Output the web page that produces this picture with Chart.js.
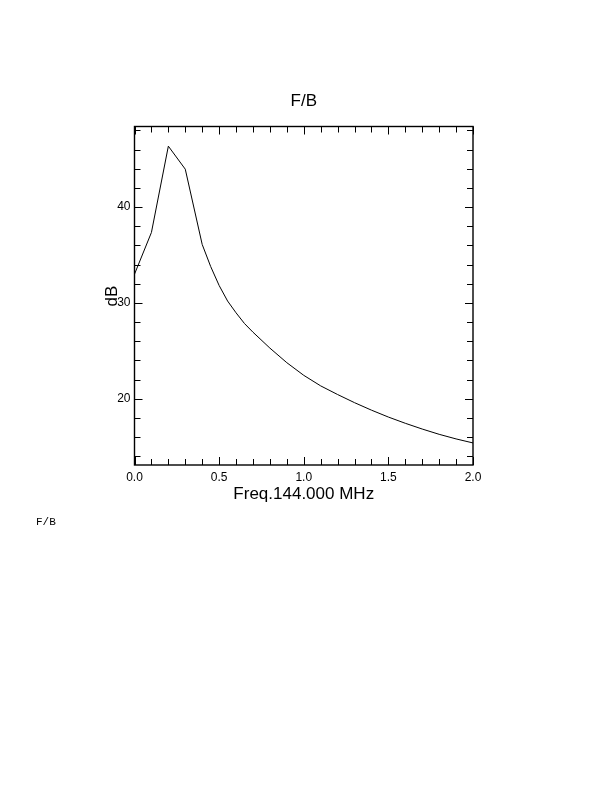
<!DOCTYPE html>
<html>
<head>
<meta charset="utf-8">
<script src="https://cdn.jsdelivr.net/npm/chart.js@4"></script>
<style>
  html, body { margin: 0; padding: 0; background: #fff; }
  canvas { display: block; }
</style>
</head>
<body>
<canvas id="fbChart" width="612" height="792"></canvas>
<script>
// data
const freqs = [0.0, 0.1, 0.2, 0.3, 0.4, 0.45, 0.5, 0.55, 0.6, 0.65, 0.7, 0.8, 0.9, 1.0,
  1.1, 1.2, 1.3, 1.4, 1.5, 1.6, 1.7, 1.8, 1.9, 2.0];
const fbValues = [33.0, 37.35, 46.35, 43.95, 36.1, 33.8, 31.82, 30.2, 28.97, 27.85, 26.95, 25.29, 23.77, 22.45,
  21.35, 20.45, 19.6, 18.82, 18.1, 17.45, 16.85, 16.3, 15.82, 15.4];
const xTicks = [0.0, 0.5, 1.0, 1.5, 2.0];
const yTicks = [20, 30, 40];

const FONT = "'Liberation Sans', Arial, sans-serif";

// frame, inward ticks and all the text
const framePlugin = {
  id: "framePlugin",
  afterDraw(chart) {
    const { ctx, chartArea: a } = chart;
    const xs = chart.scales.x;
    const ys = chart.scales.y;
    ctx.save();
    ctx.strokeStyle = "#000";
    ctx.fillStyle = "#000";

    // ticks
    ctx.lineWidth = 1;
    ctx.beginPath();
    for (let i = 0; i <= 20; i++) {
      const px = Math.round(xs.getPixelForValue(i / 10)) + 0.5;
      const len = i % 5 === 0 ? 8 : 6;
      ctx.moveTo(px, a.bottom); ctx.lineTo(px, a.bottom - len);
      ctx.moveTo(px, a.top); ctx.lineTo(px, a.top + len);
    }
    for (let v = 14; v <= 48; v += 2) {
      const py = Math.round(ys.getPixelForValue(v)) + 0.5;
      const len = v % 10 === 0 ? 8 : 6;
      ctx.moveTo(a.left, py); ctx.lineTo(a.left + len, py);
      ctx.moveTo(a.right, py); ctx.lineTo(a.right - len, py);
    }
    ctx.stroke();

    // frame
    ctx.lineWidth = 1.4;
    ctx.strokeRect(a.left, a.top, a.right - a.left, a.bottom - a.top);

    // tick labels
    ctx.font = "12px " + FONT;
    ctx.textAlign = "center";
    ctx.textBaseline = "middle";
    xTicks.forEach(v => ctx.fillText(v.toFixed(1), xs.getPixelForValue(v), a.bottom + 13));
    ctx.textAlign = "right";
    yTicks.forEach(v => ctx.fillText(String(v), a.left - 4, ys.getPixelForValue(v)));

    // titles
    ctx.font = "17px " + FONT;
    ctx.textAlign = "center";
    ctx.fillText("F/B", (a.left + a.right) / 2, 101);
    ctx.fillText("Freq.144.000 MHz", (a.left + a.right) / 2, 494);
    ctx.save();
    ctx.translate(112, 296);
    ctx.rotate(-Math.PI / 2);
    ctx.fillText("dB", 0, 0);
    ctx.restore();

    ctx.font = "11px 'Liberation Mono', 'Courier New', monospace";
    ctx.textAlign = "left";
    ctx.fillText("F/B", 36, 522);
    ctx.restore();
  },
};

new Chart(document.getElementById("fbChart").getContext("2d"), {
  type: "line",
  data: {
    datasets: [{
      data: freqs.map((f, i) => ({ x: f, y: fbValues[i] })),
      borderColor: "#000",
      borderWidth: 1,
      pointRadius: 0,
      tension: 0,
      fill: false,
    }],
  },
  options: {
    responsive: false,
    animation: false,
    devicePixelRatio: 1,
    layout: { padding: { left: 134.5, right: 139, top: 126.5, bottom: 327 } },
    scales: {
      x: { type: "linear", min: 0, max: 2, display: false },
      y: { type: "linear", min: 13.1, max: 48.4, display: false },
    },
    plugins: {
      legend: { display: false },
      tooltip: { enabled: false },
      title: { display: false },
    },
  },
  plugins: [framePlugin],
});
</script>
</body>
</html>
